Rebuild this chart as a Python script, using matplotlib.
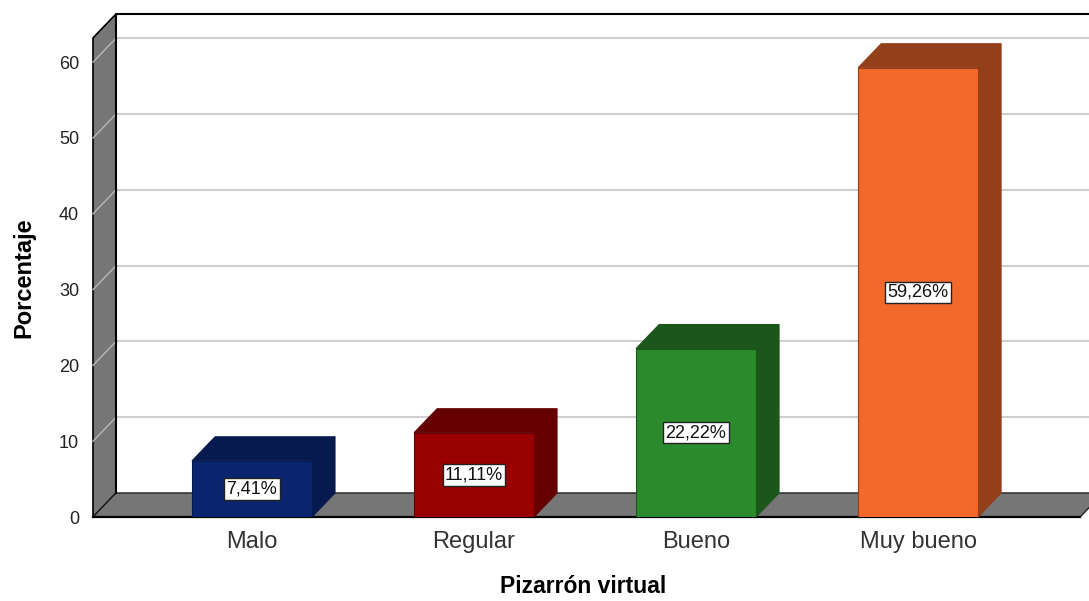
import numpy as np
import matplotlib
matplotlib.use("Agg")
import matplotlib.pyplot as plt
from matplotlib.patches import Polygon, Rectangle

plt.rcParams['font.family'] = ['Liberation Sans', 'DejaVu Sans']

# ---------------- Data ----------------
categories = ["Malo", "Regular", "Bueno", "Muy bueno"]
percent = [7.41, 11.11, 22.22, 59.26]
labels = ["7,41%", "11,11%", "22,22%", "59,26%"]
front_colors = ["#0b2470", "#990000", "#2a8a2c", "#f2692b"]
dark_colors = ["#071a50", "#650000", "#1b561b", "#933f1a"]
yticks = [0, 10, 20, 30, 40, 50, 60]

# ---------------- Geometry (3D look) ----------------
dx, dy = 0.104, 3.17      # depth offset, in data units
hw = 0.27                 # half width of a bar
x0, xr = -0.716, 3.73     # floor / wall ends
ytop = 63.2

fig = plt.figure(figsize=(10.89, 6.01), dpi=100)
ax = fig.add_axes([93 / 1089, 84 / 601, 996 / 1089, 517 / 601])
ax.set_xlim(x0, 3.770)
ax.set_ylim(0, 68.2)
for s in ax.spines.values():
    s.set_visible(False)

wall_grey = "#767676"
# left wall
ax.add_patch(Polygon([(x0, 0), (x0, ytop), (x0 + dx, ytop + dy), (x0 + dx, dy)],
                     closed=True, fc=wall_grey, ec="black", lw=1.2, zorder=1, clip_on=False))
# floor
ax.add_patch(Polygon([(x0, 0), (xr, 0), (xr + dx, dy), (x0 + dx, dy)],
                     closed=True, fc=wall_grey, ec="#222222", lw=1.0, zorder=1, clip_on=False))
ax.plot([x0, xr], [0, 0], color="black", lw=1.6, zorder=2, clip_on=False)

# gridlines on back wall and on the left wall
for t in yticks[1:]:
    ax.plot([x0 + dx, 3.9], [t + dy, t + dy], color="#cfcfcf", lw=1.5, zorder=1.5, clip_on=False)
    ax.plot([x0, x0 + dx], [t, t + dy], color="#b8b8b8", lw=1.0, zorder=1.5, clip_on=False)
# back wall border
ax.plot([x0 + dx, x0 + dx, 3.9], [dy, ytop + dy, ytop + dy], color="black", lw=1.5, zorder=2, clip_on=False)

# ---------------- Bars ----------------
for i, (v, fc, dc, lab) in enumerate(zip(percent, front_colors, dark_colors, labels)):
    c = i
    ax.add_patch(Polygon([(c - hw, v), (c + hw, v), (c + hw + dx, v + dy), (c - hw + dx, v + dy)],
                         closed=True, fc=dc, ec=dc, lw=0.8, zorder=3))
    ax.add_patch(Polygon([(c + hw, 0), (c + hw + dx, dy), (c + hw + dx, v + dy), (c + hw, v)],
                         closed=True, fc=dc, ec=dc, lw=0.8, zorder=3))
    ax.add_patch(Rectangle((c - hw, 0), 2 * hw, v, fc=fc, ec=dc, lw=0.8, zorder=4))
    ax.text(c, v / 2, lab, ha="center", va="center", fontsize=13, color="#111111", zorder=5,
            bbox=dict(boxstyle="square,pad=0.12", fc="white", ec="#222222", lw=1.0))

# ---------------- Axes text ----------------
ax.set_xticks(range(len(categories)))
ax.set_xticklabels(categories, fontsize=17, color="#333333")
ax.set_yticks(yticks)
ax.set_yticklabels([str(t) for t in yticks], fontsize=13, color="#222222")
ax.tick_params(axis="x", length=0, pad=10)
ax.tick_params(axis="y", length=0, pad=10)
ax.set_xlabel("Pizarrón virtual", fontsize=16.5, fontweight="bold")
ax.set_ylabel("Porcentaje", fontsize=17, fontweight="bold")
ax.xaxis.set_label_coords(490 / 996, -58 / 517)
ax.yaxis.set_label_coords(-58 / 996, (ytop / 2) / 68.2)

fig.savefig("out.png", dpi=100)
